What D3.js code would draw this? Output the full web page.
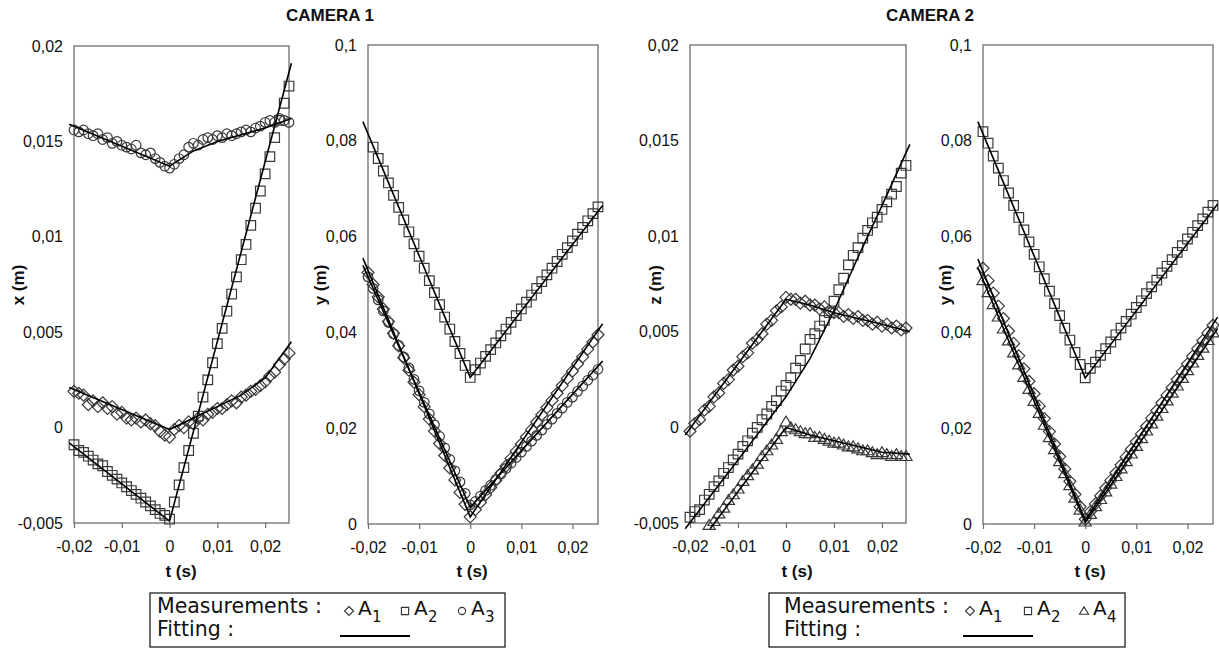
<!DOCTYPE html>
<html>
<head>
<meta charset="utf-8">
<script src="https://cdn.jsdelivr.net/npm/d3@7"></script>
<style>
  body { margin: 0; background: #fff; }
  svg text { font-family: "Liberation Sans", Arial, sans-serif; fill: #111; }
  .legend text { font-family: "DejaVu Sans", Verdana, sans-serif; }
</style>
</head>
<body>
<svg id="chart" width="1219" height="650"></svg>
<script>
// sample times (s)
const tSamples = [-0.020, -0.019, -0.018, -0.017, -0.016, -0.015, -0.014, -0.013, -0.012, -0.011,
  -0.010, -0.009, -0.008, -0.007, -0.006, -0.005, -0.004, -0.003, -0.002, -0.001, 0.000,
  0.001, 0.002, 0.003, 0.004, 0.005, 0.006, 0.007, 0.008, 0.009, 0.010, 0.011, 0.012,
  0.013, 0.014, 0.015, 0.016, 0.017, 0.018, 0.019, 0.020, 0.021, 0.022, 0.023, 0.024, 0.025];

const tTicks = [-0.02, -0.01, 0, 0.01, 0.02];
const tTickLabels = ["-0,02", "-0,01", "0", "0,01", "0,02"];
const smallTicks = [-0.005, 0, 0.005, 0.01, 0.015, 0.02];
const smallTickLabels = ["-0,005", "0", "0,005", "0,01", "0,015", "0,02"];
const bigTicks = [0, 0.02, 0.04, 0.06, 0.08, 0.1];
const bigTickLabels = ["0", "0,02", "0,04", "0,06", "0,08", "0,1"];

// CAMERA 1 - x (m)
const x_A1 = [0.0019, 0.0018, 0.0017, 0.0012, 0.0014, 0.0011, 0.0013, 0.0010, 0.0011, 0.0007, 0.0008, 0.0005, 0.0004, 0.0005, 0.0003, 0.0004, 0.0002, 0.0001, -0.0002, -0.0004, -0.0005,
  -0.0001, 0.0001, 0.0000, 0.0003, 0.0002, 0.0005, 0.0004, 0.0007, 0.0008, 0.0010, 0.0010, 0.0012, 0.0014, 0.0013, 0.0016, 0.0017, 0.0019, 0.0020, 0.0022, 0.0024, 0.0027, 0.0029, 0.0033, 0.0036, 0.0039];
const x_A2 = [-0.0009, -0.0012, -0.0013, -0.0015, -0.0017, -0.0019, -0.0020, -0.0023, -0.0025, -0.0027, -0.0029, -0.0031, -0.0033, -0.0035, -0.0037, -0.0039, -0.0041, -0.0043, -0.0045, -0.0046, -0.0048,
  -0.0039, -0.0030, -0.0021, -0.0012, -0.0003, 0.0006, 0.0016, 0.0025, 0.0034, 0.0044, 0.0052, 0.0061, 0.0070, 0.0079, 0.0088, 0.0096, 0.0106, 0.0115, 0.0124, 0.0133, 0.0142, 0.0152, 0.0161, 0.0170, 0.0179];
const x_A3 = [0.0156, 0.0155, 0.0156, 0.0154, 0.0153, 0.0154, 0.0151, 0.0152, 0.0149, 0.0150, 0.0148, 0.0147, 0.0146, 0.0148, 0.0144, 0.0143, 0.0144, 0.0141, 0.0139, 0.0137, 0.0136,
  0.0138, 0.0141, 0.0143, 0.0147, 0.0149, 0.0148, 0.0151, 0.0152, 0.0151, 0.0153, 0.0152, 0.0154, 0.0153, 0.0154, 0.0155, 0.0156, 0.0155, 0.0157, 0.0158, 0.0160, 0.0161, 0.0160, 0.0162, 0.0161, 0.0160];

// CAMERA 1 - y (m)
const y1_A1 = [0.0525, 0.0500, 0.0474, 0.0449, 0.0423, 0.0398, 0.0372, 0.0347, 0.0321, 0.0296, 0.0270, 0.0245, 0.0219, 0.0194, 0.0168, 0.0143, 0.0117, 0.0092, 0.0066, 0.0041, 0.0015,
  0.0030, 0.0045, 0.0061, 0.0076, 0.0091, 0.0106, 0.0121, 0.0137, 0.0152, 0.0167, 0.0182, 0.0197, 0.0213, 0.0228, 0.0243, 0.0258, 0.0273, 0.0289, 0.0304, 0.0319, 0.0334, 0.0349, 0.0365, 0.0380, 0.0395];
const y1_A2 = [null, 0.0787, 0.0763, 0.0737, 0.0712, 0.0686, 0.0661, 0.0635, 0.0610, 0.0585, 0.0559, 0.0534, 0.0508, 0.0483, 0.0458, 0.0432, 0.0407, 0.0381, 0.0356, 0.0331, 0.0306,
  0.0322, 0.0336, 0.0350, 0.0364, 0.0378, 0.0393, 0.0407, 0.0421, 0.0435, 0.0449, 0.0463, 0.0478, 0.0492, 0.0506, 0.0520, 0.0534, 0.0548, 0.0563, 0.0577, 0.0591, 0.0605, 0.0619, 0.0633, 0.0648, 0.0662];
const y1_A3 = [0.0516, 0.0492, 0.0468, 0.0445, 0.0421, 0.0397, 0.0373, 0.0349, 0.0326, 0.0302, 0.0278, 0.0254, 0.0230, 0.0207, 0.0183, 0.0159, 0.0135, 0.0111, 0.0088, 0.0064, 0.0040,
  0.0047, 0.0058, 0.0070, 0.0081, 0.0093, 0.0104, 0.0116, 0.0127, 0.0139, 0.0150, 0.0162, 0.0173, 0.0185, 0.0196, 0.0208, 0.0219, 0.0231, 0.0242, 0.0254, 0.0265, 0.0277, 0.0288, 0.0300, 0.0311, 0.0323];

// CAMERA 2 - z (m)
const z_A1 = [-0.0002, 0.0002, 0.0004, 0.0009, 0.0011, 0.0016, 0.0018, 0.0023, 0.0025, 0.0030, 0.0032, 0.0037, 0.0039, 0.0044, 0.0046, 0.0049, 0.0054, 0.0056, 0.0061, 0.0063, 0.0068,
  0.0067, 0.0067, 0.0065, 0.0066, 0.0064, 0.0064, 0.0062, 0.0063, 0.0061, 0.0060, 0.0060, 0.0058, 0.0059, 0.0057, 0.0058, 0.0056, 0.0056, 0.0054, 0.0055, 0.0053, 0.0054, 0.0052, 0.0053, 0.0051, 0.0052];
const z_A2 = [-0.0047, -0.0044, -0.0043, -0.0038, -0.0035, -0.0031, -0.0028, -0.0024, -0.0021, -0.0017, -0.0014, -0.0010, -0.0007, -0.0003, 0.0000, 0.0004, 0.0007, 0.0011, 0.0014, 0.0019, 0.0022,
  0.0026, 0.0031, 0.0035, 0.0041, 0.0046, 0.0049, 0.0053, 0.0056, 0.0060, 0.0066, 0.0072, 0.0078, 0.0085, 0.0090, 0.0094, 0.0099, 0.0103, 0.0107, 0.0110, 0.0114, 0.0118, 0.0122, 0.0126, 0.0133, 0.0137];
const z_A4 = [null, null, null, null, -0.0051, -0.0049, -0.0045, -0.0042, -0.0038, -0.0035, -0.0032, -0.0028, -0.0025, -0.0022, -0.0019, -0.0015, -0.0012, -0.0009, -0.0006, -0.0002, 0.0003,
  0.0000, -0.0001, -0.0002, -0.0003, -0.0003, -0.0005, -0.0005, -0.0006, -0.0007, -0.0008, -0.0008, -0.0009, -0.0010, -0.0010, -0.0011, -0.0012, -0.0012, -0.0013, -0.0014, -0.0013, -0.0014, -0.0015, -0.0014, -0.0015, -0.0015];

// CAMERA 2 - y (m)
const y2_A1 = [0.0534, 0.0508, 0.0482, 0.0455, 0.0429, 0.0403, 0.0377, 0.0351, 0.0324, 0.0298, 0.0272, 0.0246, 0.0220, 0.0193, 0.0167, 0.0141, 0.0115, 0.0089, 0.0062, 0.0036, 0.0010,
  0.0026, 0.0042, 0.0059, 0.0075, 0.0091, 0.0107, 0.0123, 0.0140, 0.0156, 0.0172, 0.0188, 0.0204, 0.0221, 0.0237, 0.0253, 0.0269, 0.0285, 0.0302, 0.0318, 0.0334, 0.0350, 0.0366, 0.0383, 0.0399, 0.0415];
const y2_A2 = [0.0819, 0.0795, 0.0768, 0.0743, 0.0717, 0.0691, 0.0665, 0.0640, 0.0614, 0.0589, 0.0563, 0.0537, 0.0512, 0.0486, 0.0460, 0.0435, 0.0409, 0.0384, 0.0358, 0.0333, 0.0305,
  0.0325, 0.0338, 0.0352, 0.0366, 0.0380, 0.0395, 0.0409, 0.0423, 0.0438, 0.0452, 0.0466, 0.0481, 0.0495, 0.0509, 0.0524, 0.0538, 0.0552, 0.0567, 0.0581, 0.0595, 0.0609, 0.0623, 0.0637, 0.0651, 0.0665];
const y2_A4 = [0.0509, 0.0484, 0.0459, 0.0433, 0.0408, 0.0383, 0.0358, 0.0333, 0.0307, 0.0282, 0.0257, 0.0232, 0.0207, 0.0181, 0.0156, 0.0131, 0.0106, 0.0081, 0.0055, 0.0030, 0.0005,
  0.0021, 0.0037, 0.0052, 0.0068, 0.0084, 0.0100, 0.0116, 0.0131, 0.0147, 0.0163, 0.0179, 0.0195, 0.0210, 0.0226, 0.0242, 0.0258, 0.0274, 0.0289, 0.0305, 0.0321, 0.0337, 0.0353, 0.0368, 0.0384, 0.0400];

// fitted curves, [t, value]
const fit_x_A1 = [[-0.021, 0.0021], [0, -0.0001], [0.005, 0.0005], [0.01, 0.0011], [0.015, 0.0017], [0.02, 0.0026], [0.0255, 0.0045]];
const fit_x_A2 = [[-0.021, -0.0008], [0, -0.0049], [0.0255, 0.0191]];
const fit_x_A3 = [[-0.021, 0.0159], [0, 0.0137], [0.005, 0.0145], [0.01, 0.0150], [0.02, 0.0157], [0.0255, 0.0162]];
const fit_y1_A1 = [[-0.021, 0.0555], [0, 0.0015], [0.0259, 0.0418]];
const fit_y1_A2 = [[-0.021, 0.084], [0, 0.0306], [0.0259, 0.0665]];
const fit_y1_A3 = [[-0.021, 0.054], [0, 0.0035], [0.0259, 0.034]];
const fit_z_A1 = [[-0.021, -0.0004], [0, 0.0067], [0.005, 0.0064], [0.01, 0.0060], [0.015, 0.0057], [0.02, 0.0054], [0.0258, 0.0050]];
const fit_z_A2 = [[-0.021, -0.0053], [-0.01, -0.0017], [0, 0.0016], [0.005, 0.0036], [0.01, 0.0061], [0.015, 0.0089], [0.02, 0.0116], [0.0258, 0.0148]];
const fit_z_A4 = [[-0.0158, -0.0053], [0, 0.0000], [0.005, -0.0004], [0.01, -0.0007], [0.015, -0.0010], [0.02, -0.0013], [0.0258, -0.0014]];
const fit_y2_A1 = [[-0.021, 0.0553], [0, 0.0008], [0.0259, 0.0432]];
const fit_y2_A2 = [[-0.021, 0.084], [0, 0.0305], [0.0259, 0.0668]];
const fit_y2_A4 = [[-0.021, 0.0535], [0, 0.0003], [0.0259, 0.0408]];

const svg = d3.select("#chart");
const markColor = "#3a3a3a";

// marker outlines, Excel style (no fill)
const markerPath = (type, s) => {
  if (type === "square") return `M${-s},${-s}H${s}V${s}H${-s}Z`;
  if (type === "diamond") { const d = s * 1.25; return `M0,${-d}L${d},0L0,${d}L${-d},0Z`; }
  if (type === "triangle") { const h = s * 1.15; return `M0,${-h}L${h * 1.1},${h * 0.8}L${-h * 1.1},${h * 0.8}Z`; }
  return d3.arc()({ innerRadius: 0, outerRadius: s, startAngle: 0, endAngle: 2 * Math.PI });
};

const panels = [
  { left: 74, right: 289, top: 46, bottom: 523, yDomain: [-0.005, 0.02], yTicks: smallTicks, yTickLabels: smallTickLabels,
    yLabel: "x (m)", yLabelX: 24, tLabelX: 181,
    series: [{ v: x_A1, m: "diamond" }, { v: x_A2, m: "square" }, { v: x_A3, m: "circle" }],
    fits: [fit_x_A1, fit_x_A2, fit_x_A3] },
  { left: 368, right: 598, top: 45, bottom: 524, yDomain: [0, 0.1], yTicks: bigTicks, yTickLabels: bigTickLabels,
    yLabel: "y (m)", yLabelX: 326, tLabelX: 472,
    series: [{ v: y1_A1, m: "diamond" }, { v: y1_A2, m: "square" }, { v: y1_A3, m: "circle" }],
    fits: [fit_y1_A1, fit_y1_A2, fit_y1_A3] },
  { left: 690, right: 906, top: 45, bottom: 523, yDomain: [-0.005, 0.02], yTicks: smallTicks, yTickLabels: smallTickLabels,
    yLabel: "z (m)", yLabelX: 661, tLabelX: 797,
    series: [{ v: z_A1, m: "diamond" }, { v: z_A2, m: "square" }, { v: z_A4, m: "triangle" }],
    fits: [fit_z_A1, fit_z_A2, fit_z_A4] },
  { left: 983, right: 1213, top: 45, bottom: 524, yDomain: [0, 0.1], yTicks: bigTicks, yTickLabels: bigTickLabels,
    yLabel: "y (m)", yLabelX: 951, tLabelX: 1090,
    series: [{ v: y2_A1, m: "diamond" }, { v: y2_A4, m: "triangle" }, { v: y2_A2, m: "square" }],
    fits: [fit_y2_A1, fit_y2_A2, fit_y2_A4] }
];

panels.forEach(p => {
  const x = d3.scaleLinear().domain([-0.02, 0.025]).range([p.left, p.right]);
  const y = d3.scaleLinear().domain(p.yDomain).range([p.bottom, p.top]);
  const g = svg.append("g");

  g.append("rect")
    .attr("x", p.left).attr("y", p.top)
    .attr("width", p.right - p.left).attr("height", p.bottom - p.top)
    .attr("fill", "none").attr("stroke", "#6e6e6e").attr("stroke-width", 1.3);

  const xAxis = g.append("g")
    .attr("transform", `translate(0,${p.bottom})`)
    .call(d3.axisBottom(x).tickValues(tTicks).tickFormat((d, i) => tTickLabels[i]).tickSize(5).tickPadding(13).tickSizeOuter(0));
  xAxis.select(".domain").remove();
  xAxis.selectAll("line").attr("stroke", "#6e6e6e").attr("stroke-width", 1.2);
  xAxis.selectAll("text").attr("font-size", 16).attr("fill", "#1a1a1a");

  const yAxis = g.append("g")
    .attr("transform", `translate(${p.left},0)`)
    .call(d3.axisLeft(y).tickValues(p.yTicks).tickFormat((d, i) => p.yTickLabels[i]).tickSize(0).tickPadding(11));
  yAxis.select(".domain").remove();
  yAxis.selectAll("text").attr("font-size", 16).attr("fill", "#1a1a1a");

  // measurements
  p.series.forEach(s => {
    g.append("g").selectAll("path")
      .data(tSamples.map((t, i) => [t, s.v[i]]).filter(d => d[1] !== null))
      .enter().append("path")
        .attr("transform", d => `translate(${x(d[0])},${y(d[1])})`)
        .attr("d", markerPath(s.m, 4.8))
        .attr("fill", "none").attr("stroke", markColor).attr("stroke-width", 1.2);
  });

  // fitting
  const line = d3.line().x(d => x(d[0])).y(d => y(d[1]));
  p.fits.forEach(f => {
    g.append("path").attr("d", line(f))
      .attr("fill", "none").attr("stroke", "#000").attr("stroke-width", 1.6);
  });

  g.append("text")
    .attr("transform", `translate(${p.yLabelX},285) rotate(-90)`)
    .attr("text-anchor", "middle").attr("font-size", 17).attr("font-weight", "bold")
    .text(p.yLabel);
  g.append("text")
    .attr("x", p.tLabelX).attr("y", 577)
    .attr("text-anchor", "middle").attr("font-size", 17).attr("font-weight", "bold")
    .text("t (s)");
});

svg.append("text").attr("x", 330).attr("y", 21).attr("text-anchor", "middle")
  .attr("font-size", 17).attr("font-weight", "bold").text("CAMERA 1");
svg.append("text").attr("x", 930).attr("y", 21).attr("text-anchor", "middle")
  .attr("font-size", 17).attr("font-weight", "bold").text("CAMERA 2");

// legends
const legends = [
  { box: [150, 593, 355, 54], textX: 157, lineX: [340, 410],
    items: [{ m: "diamond", cx: 349, sub: "1" }, { m: "square", cx: 405, sub: "2" }, { m: "circle", cx: 462, sub: "3" }] },
  { box: [769, 593, 356, 54], textX: 784, lineX: [963, 1033],
    items: [{ m: "diamond", cx: 970, sub: "1" }, { m: "square", cx: 1028, sub: "2" }, { m: "triangle", cx: 1084, sub: "4" }] }
];

legends.forEach(l => {
  const lg = svg.append("g").attr("class", "legend");
  lg.append("rect").attr("x", l.box[0]).attr("y", l.box[1]).attr("width", l.box[2]).attr("height", l.box[3])
    .attr("fill", "none").attr("stroke", "#222").attr("stroke-width", 1.3);
  lg.append("text").attr("x", l.textX).attr("y", 613).attr("font-size", 20.5).text("Measurements :");
  lg.append("text").attr("x", l.textX).attr("y", 636).attr("font-size", 20.5).text("Fitting :");
  l.items.forEach(it => {
    lg.append("path").attr("transform", `translate(${it.cx},611)`)
      .attr("d", markerPath(it.m, 3.6)).attr("fill", "none").attr("stroke", "#333").attr("stroke-width", 1.1);
    lg.append("text").attr("x", it.cx + 9).attr("y", 615).attr("font-size", 20).text("A");
    lg.append("text").attr("x", it.cx + 23).attr("y", 622).attr("font-size", 15).text(it.sub);
  });
  lg.append("line").attr("x1", l.lineX[0]).attr("x2", l.lineX[1]).attr("y1", 636).attr("y2", 636)
    .attr("stroke", "#000").attr("stroke-width", 1.8);
});
</script>
</body>
</html>
